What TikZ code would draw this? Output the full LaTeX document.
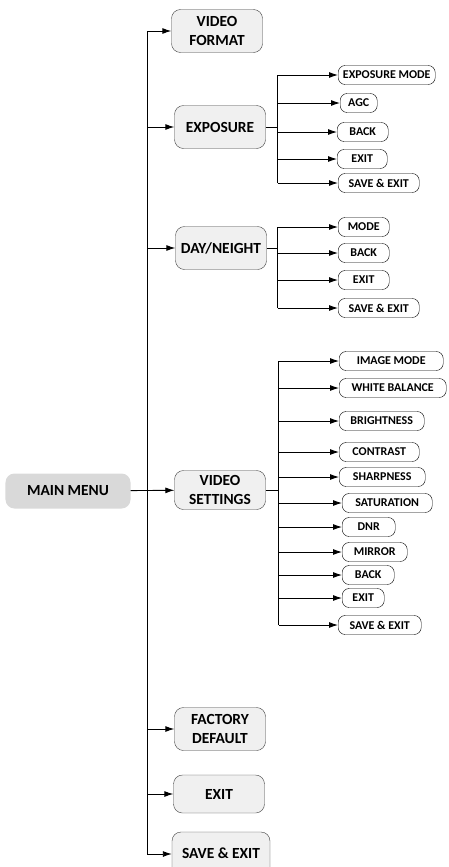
\documentclass[tikz,border=0pt]{standalone}
\usepackage{fontspec}
\setmainfont{Carlito}
\usetikzlibrary{arrows.meta}
\tikzset{
  menu node/.style={
    rounded corners=9bp,
    draw=black!75,
    fill=black!6,
    align=center,
    font=\fontsize{15.5}{19}\selectfont\bfseries,
    minimum width=91bp,
    minimum height=43bp,
    inner sep=1bp,
  },
  item node/.style={
    rounded corners=7bp,
    draw,
    fill=white,
    anchor=west,
    font=\fontsize{12}{13}\selectfont\bfseries,
    minimum height=19bp,
    inner sep=0.5bp,
  },
  branch/.style={-{Latex[length=9bp,width=6bp]}, line width=0.9bp},
  bus/.style={line width=0.9bp},
}

\begin{document}
\begin{tikzpicture}[x=1bp, y=-1bp]
      \useasboundingbox (0,0) rectangle (449,867);
      \coordinate (mainbus) at (147,0);

      \node[menu node, fill=black!15, draw=none, minimum width=125bp, minimum height=35bp] (main) at (68,491) {MAIN MENU};

      \node[menu node] (vf)    at (217,31)  {VIDEO\\FORMAT};
      \node[menu node] (exp)   at (220,127) {EXPOSURE};
      \node[menu node] (dn)    at (221,248) {DAY/NEIGHT};
      \node[menu node, minimum height=39bp] (vs) at (220,490) {VIDEO\\SETTINGS};
      \node[menu node] (fd)    at (220,729) {FACTORY\\DEFAULT};
      \node[menu node, minimum height=38bp] (mexit) at (219,794) {EXIT};
      \node[menu node, minimum width=98bp, minimum height=44bp] (msave) at (221,854) {\raisebox{1.5bp}{SAVE \& EXIT}};

      % exposure
      \node[item node, minimum width=97bp]  (expmode) at (338,75)  {EXPOSURE MODE};
      \node[item node, minimum width=37bp]  (expagc)  at (340,103) {AGC};
      \node[item node, minimum width=51bp]  (expback) at (337,132) {BACK};
      \node[item node, minimum width=50bp]  (expexit) at (337,159) {EXIT};
      \node[item node, minimum width=81bp]  (expsave) at (338,183) {SAVE \& EXIT};

      % day / night
      \node[item node, minimum width=51bp]  (dnmode)  at (338,227) {MODE};
      \node[item node, minimum width=51bp]  (dnback)  at (338,253) {BACK};
      \node[item node, minimum width=51bp]  (dnexit)  at (338,280) {EXIT};
      \node[item node, minimum width=81bp]  (dnsave)  at (338,308) {SAVE \& EXIT};

      % video settings
      \node[item node, minimum width=104bp] (vsimage)    at (339,361) {IMAGE MODE};
      \node[item node, minimum width=107bp] (vswhite)    at (339,388) {WHITE BALANCE};
      \node[item node, minimum width=85bp]  (vsbright)   at (339,421) {BRIGHTNESS};
      \node[item node, minimum width=80bp]  (vscontrast) at (339,452) {CONTRAST};
      \node[item node, minimum width=86bp]  (vssharp)    at (339,477) {SHARPNESS};
      \node[item node, minimum width=90bp]  (vssat)      at (342,503) {SATURATION};
      \node[item node, minimum width=53bp]  (vsdnr)      at (342,527) {DNR};
      \node[item node, minimum width=65bp]  (vsmirror)   at (342,552) {MIRROR};
      \node[item node, minimum width=52bp]  (vsback)     at (342,575) {BACK};
      \node[item node, minimum width=42bp]  (vsexit)     at (342,598) {EXIT};
      \node[item node, minimum width=83bp]  (vssave)     at (338,625) {SAVE \& EXIT};

      % main bus
      \draw[bus] (mainbus |- vf) -- (mainbus |- msave);
      \path[branch] (mainbus |- vf)    edge (vf);
      \path[branch] (mainbus |- exp)   edge (exp);
      \path[branch] (mainbus |- dn)    edge (dn);
      \path[branch] (mainbus |- fd)    edge (fd);
      \path[branch] (mainbus |- mexit) edge (mexit);
      \path[branch] (mainbus |- msave) edge (msave.west |- mainbus |- msave);
      \path[branch] (main) edge (vs);

      % exposure bus
      \draw[bus] (exp.east) -- ++(12,0) coordinate (expbus);
      \draw[bus] (expbus |- expmode) -- (expbus |- expsave);
      \path[branch] (expbus |- expmode) edge (expmode);
      \path[branch] (expbus |- expagc)  edge (expagc);
      \path[branch] (expbus |- expback) edge (expback);
      \path[branch] (expbus |- expexit) edge (expexit);
      \path[branch] (expbus |- expsave) edge (expsave);

      % day / night bus
      \draw[bus] (dn.east) -- ++(11,0) coordinate (dnbus);
      \draw[bus] (dnbus |- dnmode) -- (dnbus |- dnsave);
      \path[branch] (dnbus |- dnmode) edge (dnmode);
      \path[branch] (dnbus |- dnback) edge (dnback);
      \path[branch] (dnbus |- dnexit) edge (dnexit);
      \path[branch] (dnbus |- dnsave) edge (dnsave);

      % video settings bus
      \draw[bus] (vs.east) -- ++(13,0) coordinate (vsbus);
      \draw[bus] (vsbus |- vsimage) -- (vsbus |- vssave);
      \path[branch] (vsbus |- vsimage)    edge (vsimage);
      \path[branch] (vsbus |- vswhite)    edge (vswhite);
      \path[branch] (vsbus |- vsbright)   edge (vsbright);
      \path[branch] (vsbus |- vscontrast) edge (vscontrast);
      \path[branch] (vsbus |- vssharp)    edge (vssharp);
      \path[branch] (vsbus |- vssat)      edge (vssat);
      \path[branch] (vsbus |- vsdnr)      edge (vsdnr);
      \path[branch] (vsbus |- vsmirror)   edge (vsmirror);
      \path[branch] (vsbus |- vsback)     edge (vsback);
      \path[branch] (vsbus |- vsexit)     edge (vsexit);
      \path[branch] (vsbus |- vssave)     edge (vssave);
    \end{tikzpicture}
\end{document}
